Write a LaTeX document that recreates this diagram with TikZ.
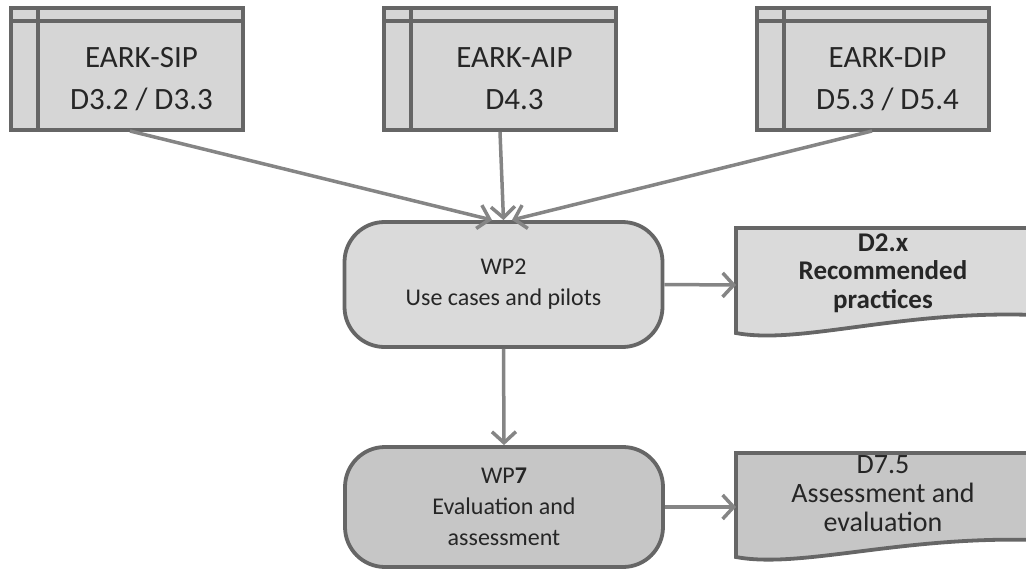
\documentclass[tikz,border=0pt]{standalone}
\usepackage{fontspec}
\setmainfont{Carlito}
\usetikzlibrary{arrows.meta}
\definecolor{edgegray}{HTML}{666666}
\definecolor{arrowgray}{HTML}{858585}
\definecolor{fillA}{HTML}{D6D6D6}
\definecolor{fillB}{HTML}{DADADA}
\definecolor{fillC}{HTML}{C6C6C6}
\definecolor{txt}{HTML}{262626}
\begin{document}
\begin{tikzpicture}[x=1pt,y=-1pt,
  topbox/.style={draw=edgegray, line width=3.8pt, fill=fillA, minimum width=232pt, minimum height=122pt, inner sep=0pt},
  innerline/.style={draw=edgegray, line width=3.8pt},
  toptext/.style={align=center, text=txt, font=\fontsize{31}{42}\selectfont},
  wpbox/.style={draw=edgegray, line width=3.8pt, rounded corners=40pt, minimum width=318pt, inner sep=0pt, align=center, text=txt, font=\fontsize{24}{31}\selectfont},
  docshape/.style={draw=edgegray, line width=3.8pt},
  doctext/.style={align=center, text=txt, font=\bfseries\fontsize{27}{28.5}\selectfont, inner sep=0pt},
  conn/.style={draw=arrowgray, line width=3.5pt, -{Straight Barb[length=11pt,width=24pt,line width=3.5pt]}}
]
\useasboundingbox (0,0) rectangle (1026,571);

% top boxes
\node[topbox] (sip) at (127,69) {};
\node[topbox] (aip) at (500,69) {};
\node[topbox] (dip) at (873,69) {};
\foreach \b in {sip,aip,dip}{
  \draw[innerline] ([xshift=29pt]\b.north west) -- ([xshift=29pt]\b.south west);
  \draw[innerline] ([yshift=-15pt]\b.north west) -- ([yshift=-15pt]\b.north east);
}
\node[toptext] (siptext) at ([xshift=14.5pt,yshift=-10pt]sip.center) {EARK-SIP\\D3.2 / D3.3};
\node[toptext] (aiptext) at ([xshift=14.5pt,yshift=-10pt]aip.center) {EARK-AIP\\D4.3};
\node[toptext] (diptext) at ([xshift=14.5pt,yshift=-10pt]dip.center) {EARK-DIP\\D5.3 / D5.4};

% work packages
\node[wpbox, fill=fillB, minimum height=125pt] (wp2) at (503.5,284.5) {WP2\\Use cases and pilots};
\node[wpbox, fill=fillC, minimum height=120pt] (wp7) at (504,507) {WP\textbf{7}\\Evaluation and\\assessment};

% documents
\fill[fillB] (736,228) -- (1035,228) -- (1035,315) .. controls (900,310) and (800,345) .. (736,333) -- cycle;
\draw[docshape] (1035,228) -- (736,228) -- (736,333) .. controls (800,345) and (900,310) .. (1035,315);
\node[doctext] (d2) at (883,273) {D2.x\\Recommended\\practices};
\coordinate (d2in) at (736,285);

\fill[fillC] (736,453) -- (1035,453) -- (1035,540) .. controls (900,536) and (800,569) .. (736,557) -- cycle;
\draw[docshape] (1035,453) -- (736,453) -- (736,557) .. controls (800,569) and (900,536) .. (1035,540);
\node[doctext, font=\fontsize{28}{29}\selectfont] (d7) at (883,494) {D7.5\\Assessment and\\evaluation};
\coordinate (d7in) at (736,507);

% connectors
\coordinate (sipout) at (130,131);
\coordinate (dipout) at (872,131);
\coordinate (wp2inL) at (492,220);
\coordinate (wp2inR) at (512,220);
\draw[conn] (sipout) -- (wp2inL);
\draw[conn] (aip.south) -- (wp2.north);
\draw[conn] (dipout) -- (wp2inR);
\draw[conn] (wp2.south) -- (wp7.north);
\draw[conn] (wp2.east) -- (d2in);
\draw[conn] (wp7.east) -- (d7in);
\end{tikzpicture}
\end{document}
